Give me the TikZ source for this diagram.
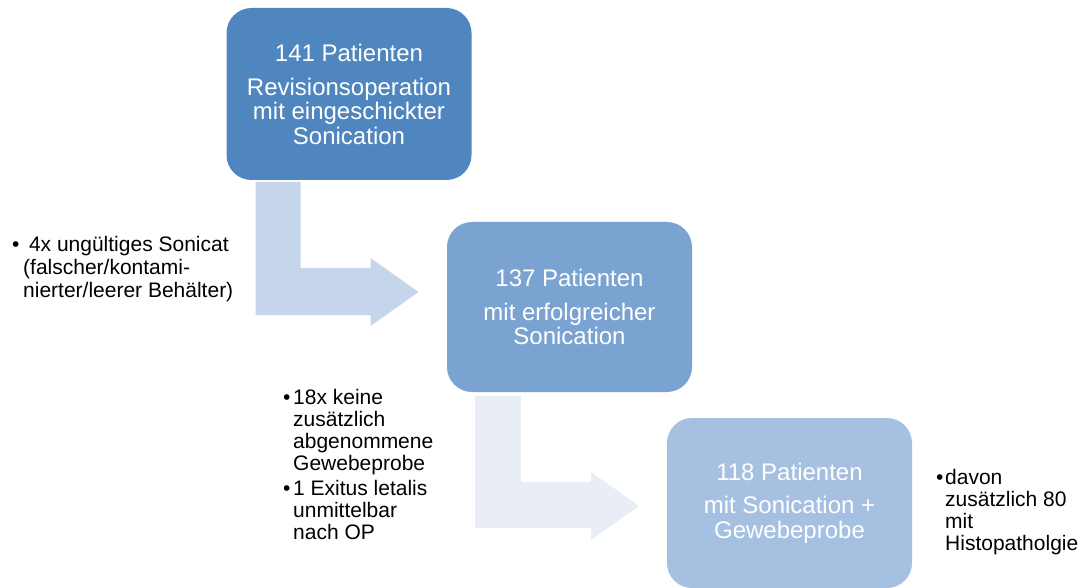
\documentclass[tikz,border=0pt]{standalone}
\usepackage{fontspec}
\setmainfont{Liberation Sans}
\usetikzlibrary{calc}
\definecolor{boxA}{HTML}{4F86BF}
\definecolor{boxB}{HTML}{7BA3D2}
\definecolor{boxC}{HTML}{A6C0E1}
\definecolor{arrA}{HTML}{C5D5EB}
\definecolor{arrB}{HTML}{E8EDF6}
\tikzset{
  flowbox/.style={rectangle, rounded corners=25pt, inner sep=0pt, outer sep=0pt,
    minimum width=245pt, minimum height=171pt, align=center, text=white,
    font=\fontsize{24}{24.5}\selectfont},
  sidenote/.style={anchor=base west, inner sep=0pt, align=left,
    font=\fontsize{21}{22}\selectfont},
  blockarrow/.style={draw=none}
}
\newcommand{\bul}[1]{\llap{\makebox[#1][l]{\textbullet}}}
\begin{document}
\begin{tikzpicture}[x=1pt,y=-1pt]
\useasboundingbox (0,0) rectangle (1082,588);

\node[flowbox, fill=boxA, minimum height=172pt] (b1) at (349,94)
  {141 Patienten\\[9.5pt]Revisionsoperation\\mit eingeschickter\\Sonication};
\node[flowbox, fill=boxB, minimum height=170pt] (b2) at (569.5,307)
  {137 Patienten\\[9.5pt]mit erfolgreicher\\Sonication};
\node[flowbox, fill=boxC, minimum height=170pt] (b3) at (789.5,503)
  {118 Patienten\\[9pt]mit Sonication +\\Gewebeprobe};

% block arrows
\coordinate (a1s) at ($(b1.south west)+(29,2)$);
\fill[arrA, blockarrow] (a1s) -- ++(45,0) -- ++(0,86) -- ++(70,0) -- ++(0,-10)
  -- ++(48,34) -- ++(-48,34) -- ++(0,-11) -- ++(-115,0) -- cycle;
\coordinate (a2s) at ($(b2.south west)+(28,4)$);
\fill[arrB, blockarrow] (a2s) -- ++(46,0) -- ++(0,86) -- ++(70,0) -- ++(0,-10)
  -- ++(48,34) -- ++(-48,34) -- ++(0,-12) -- ++(-116,0) -- cycle;

% side notes (anchored at the baseline of their last line)
\node[sidenote, font=\fontsize{21}{23.5}\selectfont] (n1) at (23,298)
  {\bul{11pt}\ 4x ungültiges Sonicat\\(falscher/kontami-\\nierter/leerer Behälter)};
\node[sidenote] (n2) at (293,539)
  {\bul{10pt}18x keine\\zusätzlich\\abgenommene\\Gewebeprobe\\[3pt]\bul{10pt}1 Exitus letalis\\unmittelbar\\nach OP};
\node[sidenote] (n3) at (945,550)
  {\bul{9pt}davon\\zusätzlich 80\\mit\\Histopatholgie};
\end{tikzpicture}
\end{document}
